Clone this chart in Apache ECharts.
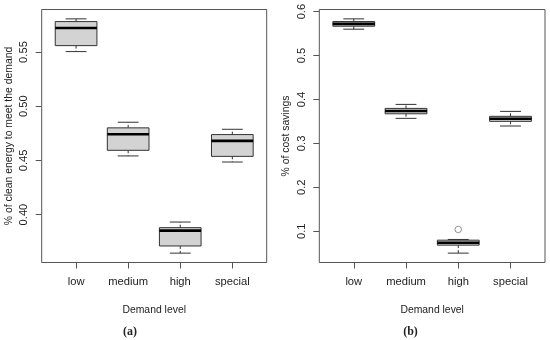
<!DOCTYPE html>
<html><head><meta charset="utf-8">
<script src="https://cdn.jsdelivr.net/npm/echarts@6/dist/echarts.min.js"></script>
<style>html,body{margin:0;padding:0;background:#fff}#c{width:550px;height:340px}</style>
</head><body><div id="c"></div>
<script>
const categories = ['low', 'medium', 'high', 'special'];
// (a) % of clean energy to meet the demand
const cleanMin    = [0.5504, 0.4541, 0.3644, 0.4485];
const cleanQ1     = [0.5559, 0.4593, 0.3710, 0.4537];
const cleanMedian = [0.5722, 0.4741, 0.3852, 0.4680];
const cleanQ3     = [0.5781, 0.4800, 0.3879, 0.4738];
const cleanMax    = [0.5806, 0.4852, 0.3931, 0.4787];
const cleanTicks  = [0.40, 0.45, 0.50, 0.55];
// (b) % of cost savings
const costMin     = [0.5599, 0.3569, 0.0501, 0.3395];
const costQ1      = [0.5667, 0.3673, 0.0683, 0.3501];
const costMedian  = [0.5721, 0.3735, 0.0737, 0.3560];
const costQ3      = [0.5773, 0.3796, 0.0796, 0.3615];
const costMax     = [0.5834, 0.3887, 0.0812, 0.3728];
const costOutliers = [['high', 0.104]];
const costTicks   = [0.1, 0.2, 0.3, 0.4, 0.5, 0.6];

const FONT = 'Liberation Sans';
const TXT = '#222';

function rangeOf(mins, maxs, outs) {
  let lo = Math.min.apply(null, mins), hi = Math.max.apply(null, maxs);
  (outs || []).forEach(o => { lo = Math.min(lo, o[1]); hi = Math.max(hi, o[1]); });
  const pad = (hi - lo) * 0.04;
  return [lo - pad, hi + pad];
}
const cleanR = rangeOf(cleanMin, cleanMax);
const costR = rangeOf(costMin, costMax, costOutliers);

function rows(mn, q1, md, q3, mx) {
  return categories.map((c, i) => [i, mn[i], q1[i], md[i], q3[i], mx[i]]);
}

function renderBox(params, api) {
  const x = api.value(0);
  const pMin = api.coord([x, api.value(1)]);
  const pQ1 = api.coord([x, api.value(2)]);
  const pMd = api.coord([x, api.value(3)]);
  const pQ3 = api.coord([x, api.value(4)]);
  const pMax = api.coord([x, api.value(5)]);
  const bw = api.size([1, 0])[0] * 0.8;
  const cx = pMd[0];
  const cw = bw / 2;
  return {
    type: 'group',
    children: [
      { type: 'line', shape: { x1: cx, y1: pQ3[1], x2: cx, y2: pMax[1] }, style: { stroke: '#333', lineWidth: 1, lineDash: [3, 2] } },
      { type: 'line', shape: { x1: cx, y1: pQ1[1], x2: cx, y2: pMin[1] }, style: { stroke: '#333', lineWidth: 1, lineDash: [3, 2] } },
      { type: 'line', shape: { x1: cx - cw / 2, y1: pMax[1], x2: cx + cw / 2, y2: pMax[1] }, style: { stroke: '#333', lineWidth: 1 } },
      { type: 'line', shape: { x1: cx - cw / 2, y1: pMin[1], x2: cx + cw / 2, y2: pMin[1] }, style: { stroke: '#333', lineWidth: 1 } },
      { type: 'rect', shape: { x: cx - bw / 2, y: pQ3[1], width: bw, height: pQ1[1] - pQ3[1] }, style: { fill: '#d3d3d3', stroke: '#333', lineWidth: 1 } },
      { type: 'line', shape: { x1: cx - bw / 2, y1: pMd[1], x2: cx + bw / 2, y2: pMd[1] }, style: { stroke: '#000', lineWidth: 2.6 } }
    ]
  };
}

const TOP = 9.5, H = 253;
const FL = 41.7, FW = 225;       // frame left panel
const FR = 319.3, FRW = 225.7;   // frame right panel
const padL = FW * 0.04 / 1.08, padR = FRW * 0.04 / 1.08;

const chart = echarts.init(document.getElementById('c'), null, { renderer: 'canvas' });
chart.setOption({
  animation: false,
  textStyle: { fontFamily: FONT },
  grid: [
    { left: FL, top: TOP, width: FW, height: H, show: true, borderColor: '#555', borderWidth: 1, backgroundColor: 'transparent' },
    { left: FL + padL, top: TOP, width: FW - 2 * padL, height: H },
    { left: FR, top: TOP, width: FRW, height: H, show: true, borderColor: '#555', borderWidth: 1, backgroundColor: 'transparent' },
    { left: FR + padR, top: TOP, width: FRW - 2 * padR, height: H }
  ],
  xAxis: [
    { gridIndex: 0, type: 'value', min: 0, max: 1, show: false },
    { gridIndex: 1, type: 'category', data: categories, boundaryGap: true,
      axisLine: { show: false },
      axisTick: { show: true, alignWithLabel: true, length: 6, lineStyle: { color: '#555' } },
      axisLabel: { color: TXT, fontSize: 11.2, margin: 14, fontFamily: FONT },
      name: 'Demand level', nameLocation: 'middle', nameGap: 43,
      nameTextStyle: { color: TXT, fontSize: 10.4, fontFamily: FONT } },
    { gridIndex: 2, type: 'value', min: 0, max: 1, show: false },
    { gridIndex: 3, type: 'category', data: categories, boundaryGap: true,
      axisLine: { show: false },
      axisTick: { show: true, alignWithLabel: true, length: 6, lineStyle: { color: '#555' } },
      axisLabel: { color: TXT, fontSize: 11.2, margin: 14, fontFamily: FONT },
      name: 'Demand level', nameLocation: 'middle', nameGap: 43,
      nameTextStyle: { color: TXT, fontSize: 10.4, fontFamily: FONT } }
  ],
  yAxis: [
    { gridIndex: 0, type: 'value', min: cleanR[0], max: cleanR[1],
      axisLine: { show: false }, splitLine: { show: false },
      axisTick: { show: true, length: 6, customValues: cleanTicks, lineStyle: { color: '#555' } },
      axisLabel: { show: true, rotate: 90, margin: 12, color: TXT, fontSize: 11.2, fontFamily: FONT,
        customValues: cleanTicks, formatter: v => Number(v).toFixed(2) },
      name: '% of clean energy to meet the demand', nameLocation: 'middle', nameGap: 28, nameRotate: 90,
      nameTextStyle: { color: TXT, fontSize: 10.4, fontFamily: FONT } },
    { gridIndex: 1, type: 'value', min: cleanR[0], max: cleanR[1], show: false, splitLine: { show: false } },
    { gridIndex: 2, type: 'value', min: costR[0], max: costR[1],
      axisLine: { show: false }, splitLine: { show: false },
      axisTick: { show: true, length: 6, customValues: costTicks, lineStyle: { color: '#555' } },
      axisLabel: { show: true, rotate: 90, margin: 12, color: TXT, fontSize: 11.2, fontFamily: FONT,
        customValues: costTicks, formatter: v => Number(v).toFixed(1) },
      name: '% of cost savings', nameLocation: 'middle', nameGap: 28, nameRotate: 90,
      nameTextStyle: { color: TXT, fontSize: 10.4, fontFamily: FONT } },
    { gridIndex: 3, type: 'value', min: costR[0], max: costR[1], show: false, splitLine: { show: false } }
  ],
  series: [
    { type: 'custom', xAxisIndex: 1, yAxisIndex: 1, renderItem: renderBox,
      encode: { x: 0, y: [1, 2, 3, 4, 5] },
      data: rows(cleanMin, cleanQ1, cleanMedian, cleanQ3, cleanMax) },
    { type: 'custom', xAxisIndex: 3, yAxisIndex: 3, renderItem: renderBox,
      encode: { x: 0, y: [1, 2, 3, 4, 5] },
      data: rows(costMin, costQ1, costMedian, costQ3, costMax) },
    { type: 'scatter', xAxisIndex: 3, yAxisIndex: 3, symbol: 'circle', symbolSize: 6.5,
      itemStyle: { color: 'rgba(0,0,0,0)', borderColor: '#555', borderWidth: 0.8 },
      data: costOutliers }
  ],
  graphic: [
    { type: 'text', x: 130, y: 331.5, style: { text: '(a)', font: 'bold 12px "Liberation Serif"', fill: TXT, textAlign: 'center', textVerticalAlign: 'middle' } },
    { type: 'text', x: 410.5, y: 331.5, style: { text: '(b)', font: 'bold 12px "Liberation Serif"', fill: TXT, textAlign: 'center', textVerticalAlign: 'middle' } }
  ]
});
</script>
</body></html>
